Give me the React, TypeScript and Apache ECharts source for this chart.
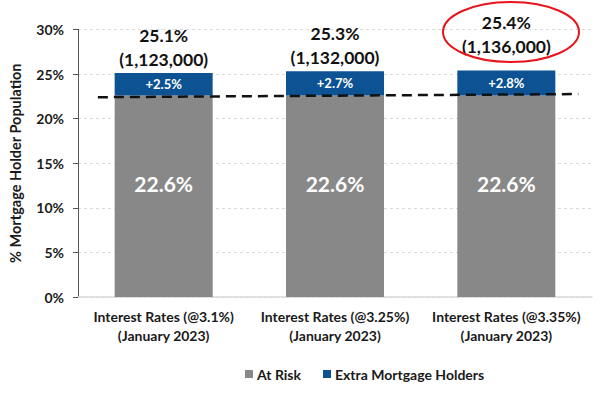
import React, { useEffect, useRef } from "react";
import * as echarts from "echarts";

const categories = [
  "Interest Rates (@3.1%)\n(January 2023)",
  "Interest Rates (@3.25%)\n(January 2023)",
  "Interest Rates (@3.35%)\n(January 2023)",
];
const atRisk = [22.6, 22.6, 22.6];
const extraHolders = [2.5, 2.7, 2.8];
const totals = [25.1, 25.3, 25.4];
const holderCounts = ["1,123,000", "1,132,000", "1,136,000"];
const baselinePoints: [number, number][] = [
  [0.116, 22.4],
  [2.92, 22.75],
];
const yTicks = { min: 0, max: 30, interval: 5 };

const FONT = "Lato, 'Open Sans', sans-serif";
const GRAY = "#888888";
const BLUE = "#0D5394";

export default function App() {
  const ref = useRef<HTMLDivElement>(null);
  useEffect(() => {
    if (!ref.current) return;
    const chart = echarts.init(ref.current, undefined, { renderer: "svg" });
    chart.setOption({
      animation: false,
      textStyle: { fontFamily: FONT },
      grid: { left: 76, right: 10, top: 29.4, bottom: 96, containLabel: false },
      legend: {
        bottom: 7,
        left: 240,
        itemWidth: 8,
        itemHeight: 8,
        itemGap: 22,
        icon: "rect",
        textStyle: { fontFamily: FONT, fontWeight: "bold", fontSize: 14, color: "#1a1a1a", padding: [0, 0, 0, -1] },
        data: ["At Risk", "Extra Mortgage Holders"],
      },
      xAxis: [
        {
          type: "category",
          data: categories,
          axisTick: { show: false },
          axisLine: { lineStyle: { color: "#d9d9d9", width: 1.5 } },
          axisLabel: {
            interval: 0,
            fontFamily: FONT,
            fontWeight: "bold",
            fontSize: 14,
            color: "#1a1a1a",
            lineHeight: 19,
            margin: 10,
          },
        },
        { type: "value", min: 0, max: 3, show: false },
      ],
      yAxis: {
        type: "value",
        min: yTicks.min,
        max: yTicks.max,
        interval: yTicks.interval,
        name: "% Mortgage Holder Population",
        nameLocation: "middle",
        nameGap: 55,
        nameTextStyle: { fontFamily: FONT, fontWeight: "bold", fontSize: 14.5, color: "#1a1a1a" },
        axisLabel: {
          formatter: "{value}%",
          fontFamily: FONT,
          fontWeight: "bold",
          fontSize: 14,
          color: "#1a1a1a",
          margin: 14,
        },
        splitLine: { lineStyle: { color: "#d9d9d9", type: [3, 3] } },
      },
      series: [
        {
          name: "At Risk",
          type: "bar",
          stack: "total",
          barWidth: 98,
          data: atRisk,
          itemStyle: { color: GRAY },
          label: {
            show: true,
            position: "inside",
            offset: [0, -13],
            formatter: (p: any) => `${p.value}%`,
            color: "#ffffff",
            fontFamily: FONT,
            fontWeight: "bold",
            fontSize: 21,
          },
        },
        {
          name: "Extra Mortgage Holders",
          type: "bar",
          stack: "total",
          barWidth: 98,
          data: extraHolders,
          itemStyle: { color: BLUE },
          label: {
            show: true,
            position: "inside",
            formatter: (p: any) => `+${p.value}%`,
            color: "#ffffff",
            fontFamily: FONT,
            fontWeight: "bold",
            fontSize: 13,
          },
        },
        {
          name: "Totals",
          type: "bar",
          stack: "total",
          barWidth: 98,
          data: totals.map((_, i) =>
            i === 2 ? { value: 0, label: { offset: [0, -10] } } : { value: 0 }
          ),
          itemStyle: { color: "transparent" },
          silent: true,
          label: {
            show: true,
            position: "top",
            distance: 2,
            formatter: (p: any) => `${totals[p.dataIndex]}%\n(${holderCounts[p.dataIndex]})`,
            color: "#111111",
            fontFamily: FONT,
            fontWeight: "bold",
            fontSize: 17.5,
            lineHeight: 24,
          },
        },
        {
          name: "Baseline",
          type: "line",
          xAxisIndex: 1,
          data: baselinePoints,
          symbol: "none",
          lineStyle: { color: "#111111", width: 2.5, type: [10, 6] },
          z: 5,
        },
      ],
      graphic: [
        {
          type: "ellipse",
          shape: { cx: 511, cy: 32, rx: 68, ry: 30 },
          style: { fill: "none", stroke: "#e8141b", lineWidth: 2 },
          z: 10,
        },
      ],
    });
    return () => chart.dispose();
  }, []);
  return (
    <div
      ref={ref}
      style={{ position: "fixed", left: 0, top: 0, width: 602, height: 393, background: "#ffffff" }}
    />
  );
}
